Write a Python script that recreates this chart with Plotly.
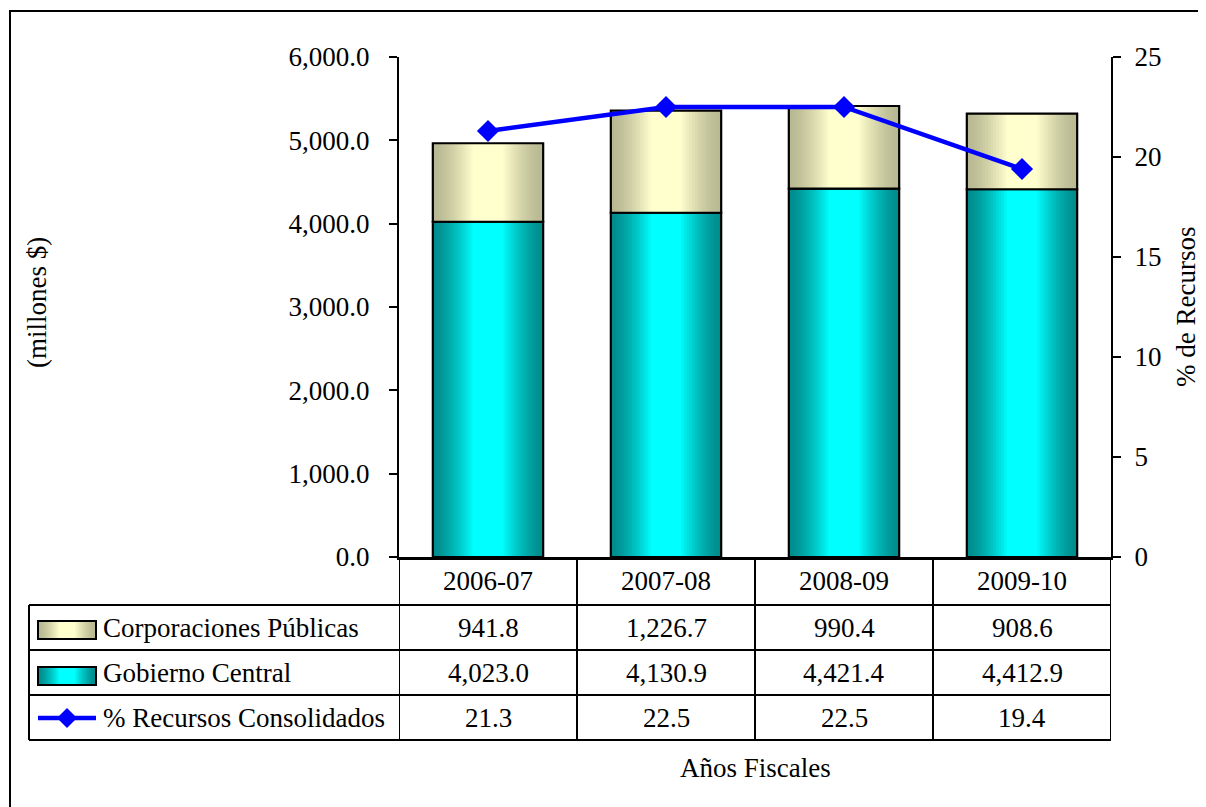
import plotly.graph_objects as go

# ---------------- data ----------------
categories = ["2006-07", "2007-08", "2008-09", "2009-10"]
corporaciones = [941.8, 1226.7, 990.4, 908.6]
gobierno = [4023.0, 4130.9, 4421.4, 4412.9]
pct_recursos = [21.3, 22.5, 22.5, 19.4]
series_names = ["Corporaciones Públicas", "Gobierno Central", "% Recursos Consolidados"]
left_ticks = [0, 1000, 2000, 3000, 4000, 5000, 6000]
right_ticks = [0, 5, 10, 15, 20, 25]
x_title = "Años Fiscales"
y_title = "(millones $)"
y2_title = "% de Recursos"

# ---------------- geometry helpers (page pixels -> paper) ----------------
W, H = 1206, 807
OFF = 8                      # page body margin
PLOT_L, PLOT_R, PLOT_T, PLOT_B = 399, 1111, 57, 557   # page pixels
PW, PH = PLOT_R - PLOT_L, PLOT_B - PLOT_T
L = PLOT_L - OFF
T = PLOT_T - OFF
R = W - L - PW
B = H - T - PH


def px(x):
    return (x - PLOT_L) / PW


def py(y):
    return (PLOT_B - y) / PH


FONT = "Times New Roman, Liberation Serif, serif"
FS = 27

GOB_EDGE, GOB_MID = (0, 140, 140), (0, 255, 255)
CORP_EDGE, CORP_MID = (184, 184, 146), (255, 255, 206)
N = 16
BAR_W = 0.62
SHRINK = 0.72
BLUE = "#0000FF"


def mix(c1, c2, t):
    t = t ** 1.4
    return "rgb(%d,%d,%d)" % tuple(round(a + (b - a) * t) for a, b in zip(c1, c2))


fig = go.Figure()


def gradient_bars(vals, base, edge, mid, name):
    for k in range(N):
        t = k / (N - 1)
        f = 1 - SHRINK * t
        fig.add_trace(go.Bar(
            x=categories, y=vals, base=base, width=BAR_W * f,
            marker=dict(color=mix(edge, mid, t), line=dict(width=0)),
            showlegend=False, hoverinfo="skip"))
    fig.add_trace(go.Bar(
        x=categories, y=vals, base=base, width=BAR_W, name=name,
        marker=dict(color="rgba(0,0,0,0)", line=dict(color="black", width=2.2)),
        showlegend=False))


gradient_bars(gobierno, [0] * len(gobierno), GOB_EDGE, GOB_MID, series_names[1])
gradient_bars(corporaciones, gobierno, CORP_EDGE, CORP_MID, series_names[0])

fig.add_trace(go.Scatter(
    x=categories, y=pct_recursos, yaxis="y2", name=series_names[2],
    mode="lines+markers", line=dict(color=BLUE, width=4.5),
    marker=dict(symbol="diamond", size=17, color=BLUE), showlegend=False))

# ---------------- table shapes & annotations ----------------
shapes = []
annotations = []
LINE = dict(color="black", width=2)

row_lines = [605, 650, 695, 740]
header_center = 581
row_centers = [627.5, 672.5, 717.5]
TABLE_LEFT = 29

for i in range(len(categories) + 1):
    shapes.append(dict(type="line", xref="x", yref="paper",
                       x0=i - 0.5, x1=i - 0.5, y0=py(PLOT_B), y1=py(row_lines[-1]), line=LINE))
for yl in row_lines:
    shapes.append(dict(type="line", xref="paper", yref="paper",
                       x0=px(TABLE_LEFT), x1=1, y0=py(yl), y1=py(yl), line=LINE))
shapes.append(dict(type="line", xref="paper", yref="paper",
                   x0=px(TABLE_LEFT), x1=px(TABLE_LEFT), y0=py(row_lines[0]), y1=py(row_lines[-1]), line=LINE))

# outer chart border
shapes.append(dict(type="rect", xref="paper", yref="paper",
                   x0=px(10), x1=px(1240), y0=py(11), y1=py(840), line=LINE))

# legend keys
KEY_X0, KEY_X1, KEY_H = 38, 96, 18
key_cx = (KEY_X0 + KEY_X1) / 2
for (edge, mid), cy in (((CORP_EDGE, CORP_MID), 630), ((GOB_EDGE, GOB_MID), 676)):
    for k in range(N):
        t = k / (N - 1)
        hw = (KEY_X1 - KEY_X0) / 2 * (1 - SHRINK * t)
        shapes.append(dict(type="rect", xref="paper", yref="paper",
                           x0=px(key_cx - hw), x1=px(key_cx + hw),
                           y0=py(cy - KEY_H / 2), y1=py(cy + KEY_H / 2),
                           fillcolor=mix(edge, mid, t), line=dict(width=0)))
    shapes.append(dict(type="rect", xref="paper", yref="paper",
                       x0=px(KEY_X0), x1=px(KEY_X1),
                       y0=py(cy - KEY_H / 2), y1=py(cy + KEY_H / 2),
                       line=LINE, fillcolor="rgba(0,0,0,0)"))
ly = 718
shapes.append(dict(type="line", xref="paper", yref="paper",
                   x0=px(KEY_X0), x1=px(KEY_X1), y0=py(ly), y1=py(ly),
                   line=dict(color=BLUE, width=4.5)))
d = 10
shapes.append(dict(type="path", xref="paper", yref="paper",
                   path="M %f %f L %f %f L %f %f L %f %f Z" % (
                       px(key_cx - d), py(ly), px(key_cx), py(ly - d),
                       px(key_cx + d), py(ly), px(key_cx), py(ly + d)),
                   fillcolor=BLUE, line=dict(width=0)))

TXT = dict(family=FONT, size=FS, color="black")

for c in categories:
    annotations.append(dict(x=c, y=py(header_center), xref="x", yref="paper",
                            text=c, showarrow=False, font=TXT, yanchor="middle"))
rows = [(corporaciones, "{:,.1f}"), (gobierno, "{:,.1f}"), (pct_recursos, "{:.1f}")]
for (vals, fmt), cy, nm in zip(rows, row_centers, series_names):
    for c, v in zip(categories, vals):
        annotations.append(dict(x=c, y=py(cy), xref="x", yref="paper",
                                text=fmt.format(v), showarrow=False, font=TXT, yanchor="middle"))
    annotations.append(dict(x=px(101), y=py(cy), xref="paper", yref="paper",
                            text=nm, showarrow=False, font=TXT,
                            xanchor="left", yanchor="middle"))

annotations.append(dict(x=0.5, y=py(768), xref="paper", yref="paper", text=x_title,
                        showarrow=False, font=TXT, yanchor="middle"))
annotations.append(dict(x=px(37), y=py(303), xref="paper", yref="paper", text=y_title,
                        showarrow=False, font=TXT, textangle=-90,
                        xanchor="center", yanchor="middle"))
annotations.append(dict(x=px(1186), y=py(307), xref="paper", yref="paper", text=y2_title,
                        showarrow=False, font=TXT, textangle=-90,
                        xanchor="center", yanchor="middle"))

AX = dict(showgrid=False, zeroline=False, showline=True, linecolor="black", linewidth=2,
          ticks="outside", ticklen=8, tickwidth=2, tickcolor="black",
          tickfont=dict(family=FONT, size=FS, color="black"))

fig.update_layout(
    width=W, height=H,
    margin=dict(l=L, r=R, t=T, b=B, pad=0),
    paper_bgcolor="white", plot_bgcolor="white",
    barmode="overlay", showlegend=False,
    font=dict(family=FONT, size=FS, color="black"),
    xaxis=dict(type="category", range=[-0.5, len(categories) - 0.5], showticklabels=False,
               ticks="", showgrid=False, zeroline=False, showline=True,
               linecolor="black", linewidth=3),
    yaxis=dict(range=[0, 6000], tickvals=left_ticks, tickformat=",.1f",
               ticklabelstandoff=14, **AX),
    yaxis2=dict(range=[0, 25], tickvals=right_ticks, tickformat="d", overlaying="y",
                side="right", ticklabelstandoff=8, **AX),
    shapes=shapes, annotations=annotations,
)

fig.write_html("out.html")
